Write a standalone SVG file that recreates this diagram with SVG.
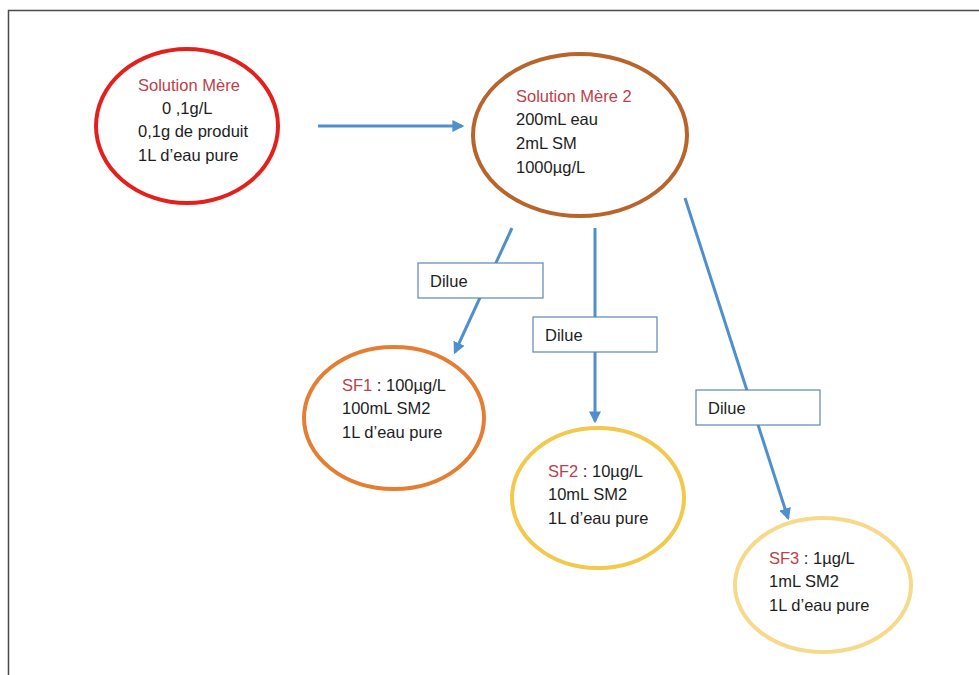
<svg xmlns="http://www.w3.org/2000/svg" width="979" height="675" viewBox="0 0 979 675">
<style>
.t{font-family:"Liberation Sans",Arial,sans-serif;font-size:16.5px;fill:#1e1e1e}
.r{fill:#c0404a}
.e{fill:none;stroke-width:4}
.c{stroke:#4f8fcd;stroke-width:3;fill:none;marker-end:url(#ah)}
.b{fill:#fff;stroke:#5b88b0;stroke-width:1.2}
</style>
<defs>
<marker id="ah" viewBox="0 0 10 10" refX="8" refY="5" markerWidth="4" markerHeight="4" orient="auto" markerUnits="strokeWidth">
<path d="M0,0 L10,5 L0,10 z" fill="#4f8fcd"/>
</marker>
</defs>
<rect width="979" height="675" fill="#fff"/>
<path d="M8.5,675 V10.5 H979" fill="none" stroke="#4a4a4a" stroke-width="1.5"/>
<g id="connectors">
<line class="c" x1="318" y1="126" x2="462" y2="126"/>
<line class="c" x1="512" y1="228" x2="455" y2="352"/>
<line class="c" x1="595" y1="228" x2="595" y2="421"/>
<line class="c" x1="685" y1="198" x2="788" y2="518"/>
</g>
<g id="dilue1"><rect class="b" x="418" y="263" width="125" height="35"/><text class="t" x="430" y="287">Dilue</text></g>
<g id="dilue2"><rect class="b" x="533" y="317" width="124" height="35"/><text class="t" x="545" y="341">Dilue</text></g>
<g id="dilue3"><rect class="b" x="696" y="390" width="124" height="35"/><text class="t" x="708" y="414">Dilue</text></g>
<g id="sm">
<ellipse class="e" cx="187" cy="126" rx="91" ry="77" stroke="#e3201c"/>
<text class="t r" x="138" y="91">Solution Mère</text>
<text class="t" x="162" y="114">0 ,1g/L</text>
<text class="t" x="138" y="137">0,1g de produit</text>
<text class="t" x="138" y="161">1L d’eau pure</text>
</g>
<g id="sm2">
<ellipse class="e" cx="580" cy="135" rx="107" ry="81" stroke="#b9642a"/>
<text class="t r" x="516" y="102">Solution Mère 2</text>
<text class="t" x="516" y="125">200mL eau</text>
<text class="t" x="516" y="149">2mL SM</text>
<text class="t" x="516" y="173">1000µg/L</text>
</g>
<g id="sf1">
<ellipse class="e" cx="394" cy="418" rx="90" ry="71" stroke="#e57e33"/>
<text class="t" x="342" y="391"><tspan class="r">SF1</tspan> : 100µg/L</text>
<text class="t" x="342" y="414">100mL SM2</text>
<text class="t" x="342" y="438">1L d’eau pure</text>
</g>
<g id="sf2">
<ellipse class="e" cx="598" cy="498" rx="86" ry="70" stroke="#f2c94c"/>
<text class="t" x="548" y="477"><tspan class="r">SF2</tspan> : 10µg/L</text>
<text class="t" x="548" y="500">10mL SM2</text>
<text class="t" x="548" y="524">1L d’eau pure</text>
</g>
<g id="sf3">
<ellipse class="e" cx="823" cy="585" rx="88" ry="67" stroke="#f6d98a"/>
<text class="t" x="769" y="564"><tspan class="r">SF3</tspan> : 1µg/L</text>
<text class="t" x="769" y="587">1mL SM2</text>
<text class="t" x="769" y="611">1L d’eau pure</text>
</g>
</svg>
